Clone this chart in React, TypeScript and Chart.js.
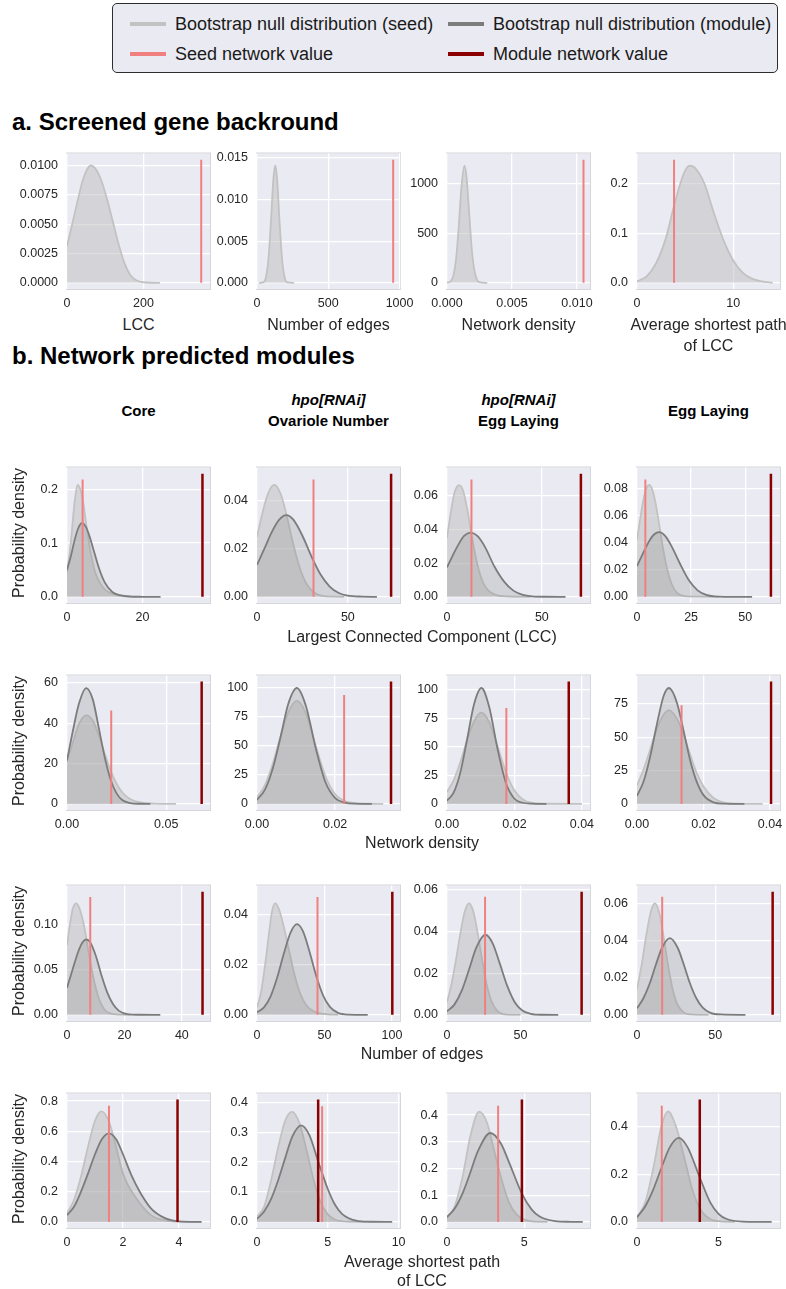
import React, { useEffect, useRef } from "react";
import { Chart, registerables } from "chart.js";

Chart.register(...registerables);

type Pt = [number, number];

// ---------- a. Screened gene background: bootstrap null (seed) ----------
const bgLccSeed: Pt[] = [[0, 0.0031], [10, 0.0045], [20, 0.0059], [30, 0.0073], [40, 0.0086], [50, 0.0095], [62, 0.01], [75, 0.0097], [90, 0.0087], [105, 0.0071], [120, 0.0052], [135, 0.0033], [150, 0.0017], [165, 0.0007], [180, 0.00025], [200, 0.00005], [243, 0]];
const bgEdgesSeed: Pt[] = [[15, 0], [40, 0.00005], [60, 0.0005], [80, 0.0028], [100, 0.008], [115, 0.0125], [128, 0.0141], [141, 0.0125], [156, 0.008], [176, 0.0028], [196, 0.0005], [216, 0.00005], [260, 0]];
const bgDensitySeed: Pt[] = [[0, 2], [0.0003, 18], [0.0005, 78], [0.0007, 243], [0.0009, 560], [0.0011, 950], [0.00134, 1185], [0.0015, 1075], [0.0017, 717], [0.0019, 350], [0.0021, 130], [0.0023, 33], [0.0025, 7], [0.0031, 0]];
const bgPathSeed: Pt[] = [[0, 0.003], [1, 0.013], [2, 0.04], [3, 0.09], [3.85, 0.155], [4.5, 0.2], [5, 0.226], [5.5, 0.236], [6, 0.232], [7, 0.2], [8, 0.14], [9, 0.085], [10, 0.045], [11, 0.02], [12, 0.008], [13, 0.003], [14.1, 0]];
const bgSeedValues = [351, 955, 0.0105, 3.85];
const bgSeedTops = [0.0105, 0.0148, 1245, 0.248];
const bgXMax = [374, 1003, 0.011, 14.86];
const bgXTicks = [[0, 200], [0, 500, 1000], [0, 0.005, 0.01], [0, 10]];
const bgYTicks = [[0, 0.0025, 0.005, 0.0075, 0.01], [0, 0.005, 0.01, 0.015], [0, 500, 1000], [0, 0.1, 0.2]];

// ---------- b. Network predicted modules ----------
// Row 1: largest connected component
const lccCoreSeed: Pt[] = [[0, 0.045], [1, 0.1], [2, 0.175], [2.8, 0.208], [3.5, 0.2], [4.2, 0.18], [5, 0.14], [6.2, 0.085], [7.5, 0.045], [8.8, 0.025], [10, 0.014], [11.5, 0.007], [13, 0.003], [15, 0.001], [18, 0]];
const lccCoreModule: Pt[] = [[0, 0.05], [1, 0.075], [2, 0.105], [3, 0.128], [4, 0.137], [5, 0.13], [6, 0.112], [7, 0.088], [8, 0.064], [9, 0.043], [10, 0.027], [12, 0.009], [14, 0.003], [17, 0.0005], [20, 0.0001], [24.8, 0]];
const lccOvarioleSeed: Pt[] = [[0, 0.025], [3, 0.035], [6, 0.043], [9.5, 0.0467], [13, 0.043], [16, 0.035], [19, 0.025], [22, 0.016], [25, 0.009], [28, 0.0045], [32, 0.0015], [36, 0.0004], [42, 0.00005], [48, 0]];
const lccOvarioleModule: Pt[] = [[0, 0.0133], [4, 0.02], [8, 0.0268], [12, 0.032], [16.1, 0.0341], [20, 0.0322], [25, 0.0255], [30, 0.0168], [35, 0.0093], [40, 0.0043], [45, 0.0016], [50, 0.0005], [58, 0.0001], [66, 0]];
const lccEggHpoSeed: Pt[] = [[0, 0.035], [2, 0.05], [4, 0.062], [6.3, 0.0664], [8.5, 0.063], [11, 0.05], [13.7, 0.032], [16.5, 0.017], [19, 0.0085], [22, 0.0035], [26, 0.001], [32, 0.0002], [44, 0]];
const lccEggHpoModule: Pt[] = [[0, 0.0175], [3, 0.0245], [6, 0.031], [9, 0.0362], [12.5, 0.0382], [16, 0.0362], [20, 0.0297], [25, 0.018], [30, 0.0092], [35, 0.0037], [40, 0.0012], [45, 0.0003], [52, 0.00005], [62.5, 0]];
const lccEggSeed: Pt[] = [[0, 0.042], [1.5, 0.058], [3, 0.072], [4.3, 0.08], [5.6, 0.0827], [7, 0.0795], [8.5, 0.07], [10, 0.056], [12, 0.036], [14, 0.02], [16, 0.0095], [18.5, 0.003], [22, 0.0005], [28, 0.0001], [38, 0]];
const lccEggModule: Pt[] = [[0, 0.0227], [3, 0.0329], [6, 0.0422], [8, 0.0462], [10.2, 0.0478], [13, 0.045], [16, 0.0373], [20, 0.0241], [24, 0.0122], [28, 0.0048], [32, 0.0015], [38, 0.0002], [45, 0.00002], [53.2, 0]];
const lccSeedValues = [4.14, 31.1, 12.9, 3.86];
const lccModuleValues = [35.9, 73.8, 70.6, 61.9];
const lccSeedTops = [0.218, 0.049, 0.0697, 0.0867];
const lccModuleTops = [0.229, 0.0514, 0.0732, 0.091];
const lccXMax = [37.9, 78.7, 75.4, 66.1];
const lccXTicks = [[0, 20], [0, 50], [0, 50], [0, 25, 50]];
const lccYTicks = [[0, 0.1, 0.2], [0, 0.02, 0.04], [0, 0.02, 0.04, 0.06], [0, 0.02, 0.04, 0.06, 0.08]];

// Row 2: network density
const densCoreSeed: Pt[] = [[0, 21], [0.003, 30.5], [0.006, 39.5], [0.0097, 43.9], [0.013, 41.2], [0.016, 34], [0.019, 25], [0.022, 16.5], [0.025, 10], [0.028, 5.5], [0.032, 2.3], [0.037, 0.7], [0.044, 0.15], [0.055, 0]];
const densCoreModule: Pt[] = [[0, 21.5], [0.003, 36.4], [0.006, 49.6], [0.0097, 57.4], [0.013, 51.8], [0.016, 37.8], [0.019, 23.2], [0.022, 12], [0.025, 5.2], [0.028, 1.8], [0.032, 0.4], [0.036, 0.06], [0.042, 0]];
const densOvarioleSeed: Pt[] = [[0, 5.5], [0.002, 16], [0.004, 34], [0.006, 58], [0.008, 78.7], [0.0102, 88.7], [0.0125, 78], [0.015, 50], [0.0175, 24], [0.02, 8.3], [0.0225, 2.4], [0.025, 0.6], [0.028, 0.1], [0.0323, 0]];
const densOvarioleModule: Pt[] = [[0, 3.5], [0.002, 12], [0.004, 30], [0.006, 57], [0.008, 86], [0.0102, 99.7], [0.0125, 84.5], [0.015, 48.5], [0.0175, 18.8], [0.02, 5], [0.0225, 1.1], [0.025, 0.2], [0.0294, 0]];
const densEggHpoSeed: Pt[] = [[0, 10.5], [0.002, 20.8], [0.004, 36.8], [0.006, 56], [0.008, 72], [0.0102, 79.8], [0.0125, 71.6], [0.015, 50.4], [0.0175, 27.5], [0.02, 11.7], [0.0225, 3.9], [0.025, 1], [0.03, 0.1], [0.04, 0]];
const densEggHpoModule: Pt[] = [[0, 2.8], [0.002, 10], [0.004, 28], [0.006, 57], [0.008, 87], [0.0102, 101.4], [0.0125, 85], [0.015, 48], [0.0175, 18], [0.02, 4.5], [0.0225, 1], [0.025, 0.2], [0.0295, 0]];
const densEggSeed: Pt[] = [[0, 14], [0.002, 26], [0.004, 41], [0.006, 56.5], [0.008, 67], [0.0096, 70.2], [0.012, 64], [0.014, 52], [0.016, 37], [0.018, 23], [0.02, 13], [0.023, 4.4], [0.026, 1.1], [0.03, 0.15], [0.0378, 0]];
const densEggModule: Pt[] = [[0, 6], [0.002, 17], [0.004, 36], [0.006, 60], [0.008, 81], [0.0096, 87], [0.012, 76], [0.014, 55], [0.016, 32.6], [0.018, 16.3], [0.02, 6.6], [0.023, 1.2], [0.026, 0.2], [0.0323, 0]];
const densSeedValues = [0.0223, 0.0223, 0.0176, 0.0134];
const densModuleValues = [0.0679, 0.0343, 0.0361, 0.0403];
const densSeedTops = [46.3, 93.7, 84, 74];
const densModuleTops = [60.6, 105.2, 107, 91.8];
const densXMax = [0.0721, 0.0366, 0.0424, 0.043];
const densXTicks = [[0, 0.05], [0, 0.02], [0, 0.02, 0.04], [0, 0.02, 0.04]];
const densYTicks = [[0, 20, 40, 60], [0, 25, 50, 75, 100], [0, 25, 50, 75, 100], [0, 25, 50, 75]];

// Row 3: number of edges
const edgeCoreSeed: Pt[] = [[0, 0.077], [1, 0.1], [2, 0.118], [3.25, 0.124], [4.5, 0.117], [6, 0.098], [7.5, 0.07], [9, 0.044], [11, 0.019], [13, 0.006], [15, 0.0016], [18, 0.0002], [22, 0]];
const edgeCoreModule: Pt[] = [[0, 0.03], [2, 0.051], [4, 0.071], [5.5, 0.081], [6.7, 0.0838], [8, 0.081], [10, 0.066], [12, 0.044], [14, 0.025], [16, 0.012], [18, 0.0047], [21, 0.0008], [25, 0.0001], [32.5, 0]];
const edgeOvarioleSeed: Pt[] = [[0, 0.003], [3, 0.009], [6, 0.02], [9, 0.033], [11, 0.041], [13.5, 0.0445], [16, 0.0425], [19, 0.037], [22, 0.03], [25, 0.0225], [28, 0.0155], [32, 0.0085], [36, 0.0042], [40, 0.002], [45, 0.0008], [52, 0.0002], [60, 0]];
const edgeOvarioleModule: Pt[] = [[0, 0.001], [5, 0.0029], [10, 0.0073], [15, 0.015], [20, 0.0247], [25, 0.033], [29.6, 0.0362], [34, 0.0334], [39, 0.025], [44, 0.0153], [49, 0.0077], [54, 0.0032], [60, 0.0008], [68, 0.0001], [82, 0]];
const edgeEggHpoSeed: Pt[] = [[0, 0.006], [3, 0.0146], [6, 0.026], [9, 0.0387], [12, 0.0494], [15, 0.0536], [18, 0.0494], [21, 0.0387], [24, 0.026], [27, 0.0146], [30, 0.007], [34, 0.002], [38, 0.0004], [44, 0.00002], [50, 0]];
const edgeEggHpoModule: Pt[] = [[0, 0.0017], [5, 0.0049], [10, 0.0116], [15, 0.0218], [20, 0.0324], [26.1, 0.0385], [31, 0.0345], [36, 0.0245], [41, 0.0139], [46, 0.0062], [51, 0.0022], [57, 0.0005], [65, 0.00004], [75.7, 0]];
const edgeEggSeed: Pt[] = [[0, 0.0139], [3, 0.027], [6, 0.0433], [9, 0.056], [11.4, 0.06], [14, 0.0556], [17, 0.042], [20, 0.026], [23, 0.013], [26, 0.0053], [30, 0.0012], [34, 0.0002], [40, 0.00001], [45.7, 0]];
const edgeEggModule: Pt[] = [[0, 0.0035], [4, 0.0088], [8, 0.0166], [12, 0.0268], [16, 0.0361], [21, 0.0413], [26, 0.0361], [30, 0.0268], [34, 0.0166], [38, 0.0088], [42, 0.0039], [47, 0.0011], [54, 0.0002], [69.3, 0]];
const edgeSeedValues = [8.1, 44.8, 25.9, 16.1];
const edgeModuleValues = [47.2, 100.2, 91.6, 86.7];
const edgeSeedTops = [0.131, 0.0471, 0.0567, 0.0635];
const edgeModuleTops = [0.137, 0.0492, 0.0592, 0.0663];
const edgeXMax = [49.8, 105.9, 97.3, 91.4];
const edgeXTicks = [[0, 20, 40], [0, 50, 100], [0, 50], [0, 50]];
const edgeYTicks = [[0, 0.05, 0.1], [0, 0.02, 0.04], [0, 0.02, 0.04, 0.06], [0, 0.02, 0.04, 0.06]];

// Row 4: average shortest path of the LCC
const pathCoreSeed: Pt[] = [[0, 0.057], [0.25, 0.145], [0.5, 0.3], [0.75, 0.497], [1, 0.67], [1.23, 0.732], [1.5, 0.665], [1.75, 0.5], [2, 0.32], [2.5, 0.15], [3, 0.045], [3.5, 0.01], [4, 0.002], [4.8, 0]];
const pathCoreModule: Pt[] = [[0, 0.045], [0.25, 0.1], [0.5, 0.2], [0.75, 0.32], [1, 0.448], [1.25, 0.549], [1.5, 0.587], [1.75, 0.549], [2, 0.448], [2.3, 0.31], [2.6, 0.2], [3, 0.09], [3.5, 0.025], [4, 0.004], [4.81, 0]];
const pathOvarioleSeed: Pt[] = [[0, 0.018], [0.5, 0.05], [1, 0.14], [1.5, 0.25], [2, 0.34], [2.48, 0.368], [3, 0.33], [3.5, 0.24], [4, 0.14], [4.5, 0.065], [5, 0.025], [5.5, 0.008], [6.5, 0.0005], [8, 0]];
const pathOvarioleModule: Pt[] = [[0, 0.01], [0.5, 0.035], [1, 0.077], [1.5, 0.14], [2, 0.215], [2.5, 0.286], [3.11, 0.323], [3.7, 0.29], [4.3, 0.205], [5, 0.11], [5.5, 0.058], [6, 0.027], [7, 0.004], [8, 0.0005], [9.55, 0]];
const pathEggHpoSeed: Pt[] = [[0, 0.015], [0.5, 0.058], [1, 0.166], [1.5, 0.318], [2.08, 0.413], [2.6, 0.37], [3, 0.28], [3.5, 0.165], [4, 0.075], [4.5, 0.028], [5, 0.009], [5.5, 0.002], [6.5, 0]];
const pathEggHpoModule: Pt[] = [[0, 0.018], [0.5, 0.05], [1, 0.106], [1.5, 0.183], [2, 0.265], [2.81, 0.333], [3.5, 0.293], [4, 0.226], [4.85, 0.106], [5.5, 0.045], [6, 0.02], [7, 0.003], [8, 0.0003], [8.79, 0]];
const pathEggSeed: Pt[] = [[0, 0.019], [0.5, 0.081], [1, 0.226], [1.5, 0.404], [1.9, 0.465], [2.4, 0.4], [2.9, 0.27], [3.4, 0.134], [3.9, 0.051], [4.5, 0.011], [5, 0.003], [6, 0]];
const pathEggModule: Pt[] = [[0, 0.02], [0.5, 0.065], [1, 0.137], [1.5, 0.228], [2, 0.313], [2.56, 0.354], [3.1, 0.315], [3.85, 0.187], [4.5, 0.081], [5, 0.034], [5.5, 0.012], [6.5, 0.001], [7.5, 0.0001], [8.26, 0]];
const pathSeedValues = [1.5, 4.6, 3.31, 1.52];
const pathModuleValues = [3.95, 4.32, 4.85, 3.85];
const pathSeedTops = [0.77, 0.387, 0.435, 0.489];
const pathModuleTops = [0.81, 0.409, 0.458, 0.515];
const pathXMax = [5.11, 10.1, 9.26, 8.77];
const pathXTicks = [[0, 2, 4], [0, 5, 10], [0, 5], [0, 5]];
const pathYTicks = [[0, 0.2, 0.4, 0.6, 0.8], [0, 0.1, 0.2, 0.3, 0.4], [0, 0.1, 0.2, 0.3, 0.4], [0, 0.2, 0.4]];

// ---------- styling ----------
const FONT = "'Liberation Sans', Arial, Helvetica, sans-serif";
const INK = "#262626";
const PANEL_BG = "#eaeaf2";
const SEED_CURVE = "#c2c2c2";
const MODULE_CURVE = "#7c7c7c";
const SEED_VALUE = "#f08080";
const MODULE_VALUE = "#8b0000";

const COL_LEFT = [67, 257, 447, 637];
const PLOT_W = 143;
const ROW_TOP = [149, 463, 671, 881, 1089];
const ROW_H = [140, 140, 139, 140, 139];
const Y_AXIS_W = 56;
const X_AXIS_H = 26;
const PAD_TOP = 12;
const PAD_RIGHT = 30;

interface PanelSpec {
  seed: Pt[];
  module?: Pt[];
  seedValue: number;
  seedTop: number;
  moduleValue?: number;
  moduleTop?: number;
  xMax: number;
  xTicks: number[];
  yTicks: number[];
}

const rowA: PanelSpec[] = [bgLccSeed, bgEdgesSeed, bgDensitySeed, bgPathSeed].map((seed, i) => ({
  seed,
  seedValue: bgSeedValues[i],
  seedTop: bgSeedTops[i],
  xMax: bgXMax[i],
  xTicks: bgXTicks[i],
  yTicks: bgYTicks[i],
}));

function moduleRow(
  seeds: Pt[][], modules: Pt[][], seedValues: number[], moduleValues: number[],
  seedTops: number[], moduleTops: number[], xMax: number[], xTicks: number[][], yTicks: number[][]
): PanelSpec[] {
  return seeds.map((seed, i) => ({
    seed,
    module: modules[i],
    seedValue: seedValues[i],
    moduleValue: moduleValues[i],
    seedTop: seedTops[i],
    moduleTop: moduleTops[i],
    xMax: xMax[i],
    xTicks: xTicks[i],
    yTicks: yTicks[i],
  }));
}

const rowsB: PanelSpec[][] = [
  moduleRow([lccCoreSeed, lccOvarioleSeed, lccEggHpoSeed, lccEggSeed], [lccCoreModule, lccOvarioleModule, lccEggHpoModule, lccEggModule],
    lccSeedValues, lccModuleValues, lccSeedTops, lccModuleTops, lccXMax, lccXTicks, lccYTicks),
  moduleRow([densCoreSeed, densOvarioleSeed, densEggHpoSeed, densEggSeed], [densCoreModule, densOvarioleModule, densEggHpoModule, densEggModule],
    densSeedValues, densModuleValues, densSeedTops, densModuleTops, densXMax, densXTicks, densYTicks),
  moduleRow([edgeCoreSeed, edgeOvarioleSeed, edgeEggHpoSeed, edgeEggSeed], [edgeCoreModule, edgeOvarioleModule, edgeEggHpoModule, edgeEggModule],
    edgeSeedValues, edgeModuleValues, edgeSeedTops, edgeModuleTops, edgeXMax, edgeXTicks, edgeYTicks),
  moduleRow([pathCoreSeed, pathOvarioleSeed, pathEggHpoSeed, pathEggSeed], [pathCoreModule, pathOvarioleModule, pathEggHpoModule, pathEggModule],
    pathSeedValues, pathModuleValues, pathSeedTops, pathModuleTops, pathXMax, pathXTicks, pathYTicks),
];

const decimalsOf = (ticks: number[]) =>
  Math.max(0, ...ticks.map((v) => {
    const s = String(v);
    const i = s.indexOf(".");
    return i < 0 ? 0 : s.length - i - 1;
  }));

const toXY = (pts: Pt[]) => pts.map(([x, y]) => ({ x, y }));

const plotFrame = {
  id: "plotFrame",
  beforeDraw(chart: any) {
    const { ctx, chartArea: a } = chart;
    ctx.save();
    ctx.fillStyle = PANEL_BG;
    ctx.fillRect(a.left, a.top, a.right - a.left, a.bottom - a.top);
    ctx.strokeStyle = "#d6d6da";
    ctx.lineWidth = 1;
    ctx.strokeRect(a.left - 0.5, a.top - 0.5, a.right - a.left + 1, a.bottom - a.top + 1);
    ctx.restore();
  },
};

function Panel({ spec, left, top, height }: { spec: PanelSpec; left: number; top: number; height: number }) {
  const ref = useRef<HTMLCanvasElement>(null);
  const cw = Y_AXIS_W + PLOT_W + PAD_RIGHT;
  const ch = PAD_TOP + height + X_AXIS_H;

  useEffect(() => {
    const datasets: any[] = [];
    if (spec.moduleValue !== undefined && spec.moduleTop !== undefined) {
      datasets.push({
        data: [{ x: spec.moduleValue, y: 0 }, { x: spec.moduleValue, y: spec.moduleTop }],
        borderColor: MODULE_VALUE, borderWidth: 2.5, pointRadius: 0, order: 0,
      });
    }
    datasets.push({
      data: [{ x: spec.seedValue, y: 0 }, { x: spec.seedValue, y: spec.seedTop }],
      borderColor: SEED_VALUE, borderWidth: 2, pointRadius: 0, order: 1,
    });
    if (spec.module) {
      datasets.push({
        data: toXY(spec.module), borderColor: MODULE_CURVE, backgroundColor: "rgba(128,128,128,0.22)",
        fill: "origin", borderWidth: 1.8, pointRadius: 0, cubicInterpolationMode: "monotone", order: 2,
      });
    }
    datasets.push({
      data: toXY(spec.seed), borderColor: SEED_CURVE, backgroundColor: "rgba(192,192,192,0.52)",
      fill: "origin", borderWidth: 1.8, pointRadius: 0, cubicInterpolationMode: "monotone", order: 3,
    });

    const allY = [
      ...spec.seed.map((p) => p[1]),
      ...(spec.module ? spec.module.map((p) => p[1]) : []),
      spec.seedTop, spec.moduleTop ?? 0,
    ];
    const yTop = Math.max(...allY);
    const xd = decimalsOf(spec.xTicks);
    const yd = decimalsOf(spec.yTicks);
    const tickFont = { family: FONT, size: 12.5 };

    const chart = new Chart(ref.current as HTMLCanvasElement, {
      type: "line",
      data: { datasets },
      plugins: [plotFrame],
      options: {
        responsive: false,
        animation: false,
        events: [],
        layout: { padding: { top: PAD_TOP, right: PAD_RIGHT, left: 0, bottom: 0 } },
        plugins: { legend: { display: false }, tooltip: { enabled: false } },
        scales: {
          x: {
            type: "linear", min: 0, max: spec.xMax,
            afterBuildTicks: (s: any) => { s.ticks = spec.xTicks.map((v) => ({ value: v })); },
            afterFit: (s: any) => { s.height = X_AXIS_H; },
            grid: { color: "#ffffff", lineWidth: 1.3, drawTicks: false },
            border: { display: false },
            ticks: { padding: 7, color: INK, font: tickFont, autoSkip: false, maxRotation: 0,
              callback: (v: any) => Number(v).toFixed(xd) },
          },
          y: {
            type: "linear", min: -0.05 * yTop, max: 1.05 * yTop,
            afterBuildTicks: (s: any) => { s.ticks = spec.yTicks.map((v) => ({ value: v })); },
            afterFit: (s: any) => { s.width = Y_AXIS_W; },
            grid: { color: "#ffffff", lineWidth: 1.3, drawTicks: false },
            border: { display: false },
            ticks: { padding: 9, color: INK, font: tickFont, autoSkip: false,
              callback: (v: any) => Number(v).toFixed(yd) },
          },
        },
      } as any,
    });
    return () => chart.destroy();
  }, [spec]);

  return (
    <canvas
      ref={ref}
      width={cw}
      height={ch}
      style={{ position: "absolute", left: left - Y_AXIS_W, top: top - PAD_TOP, width: cw, height: ch }}
    />
  );
}

type TextProps = {
  x: number; y: number; children: React.ReactNode; size: number;
  bold?: boolean; italic?: boolean; anchor?: "center" | "left"; rotate?: boolean; color?: string;
};

function Text({ x, y, children, size, bold, italic, anchor = "center", rotate, color = INK }: TextProps) {
  const shift = anchor === "center" ? "translate(-50%, -50%)" : "translate(0, -50%)";
  return (
    <div
      style={{
        position: "absolute", left: x, top: y, transform: shift + (rotate ? " rotate(-90deg)" : ""),
        whiteSpace: "nowrap", fontFamily: FONT, fontSize: size, lineHeight: 1,
        fontWeight: bold ? 700 : 400, fontStyle: italic ? "italic" : "normal", color,
      }}
    >
      {children}
    </div>
  );
}

const legendItems = [
  { label: "Bootstrap null distribution (seed)", color: SEED_CURVE, x: 130, y: 24 },
  { label: "Bootstrap null distribution (module)", color: MODULE_CURVE, x: 448, y: 24 },
  { label: "Seed network value", color: SEED_VALUE, x: 130, y: 54 },
  { label: "Module network value", color: MODULE_VALUE, x: 448, y: 54 },
];

const rowAXLabels = ["LCC", "Number of edges", "Network density", "Average shortest path"];
const rowBXLabels = ["Largest Connected Component (LCC)", "Network density", "Number of edges", "Average shortest path"];
const rowBLabelY = [637, 843, 1054, 1262];

export default function App() {
  const colCenter = (c: number) => COL_LEFT[c] + PLOT_W / 2;
  return (
    <div style={{ position: "absolute", left: 0, top: 0, width: 786, height: 1289, overflow: "hidden", background: "#ffffff" }}>
      {/* legend */}
      <div style={{ position: "absolute", left: 112, top: 3, width: 666, height: 70, boxSizing: "border-box",
        border: "1.3px solid #2e2e2e", borderRadius: 5, background: PANEL_BG }} />
      {legendItems.map((it) => (
        <React.Fragment key={it.label}>
          <div style={{ position: "absolute", left: it.x, top: it.y - 2, width: 36, height: 4, background: it.color }} />
          <Text x={it.x + 45} y={it.y} size={18} anchor="left" color="#1a1a1a">{it.label}</Text>
        </React.Fragment>
      ))}

      {/* section a */}
      <Text x={12} y={122} size={24} bold anchor="left" color="#000">a. Screened gene backround</Text>
      {rowA.map((spec, c) => (
        <Panel key={"a" + c} spec={spec} left={COL_LEFT[c]} top={ROW_TOP[0]} height={ROW_H[0]} />
      ))}
      {rowAXLabels.map((t, c) => (
        <Text key={"ax" + c} x={colCenter(c)} y={325} size={16}>{t}</Text>
      ))}
      <Text x={colCenter(3)} y={346} size={16}>of LCC</Text>

      {/* section b */}
      <Text x={12} y={356} size={24} bold anchor="left" color="#000">b. Network predicted modules</Text>
      <Text x={colCenter(0)} y={410} size={15} bold color="#000">Core</Text>
      <Text x={colCenter(1)} y={399} size={15} bold italic color="#000">hpo[RNAi]</Text>
      <Text x={colCenter(1)} y={420} size={15} bold color="#000">Ovariole Number</Text>
      <Text x={colCenter(2)} y={399} size={15} bold italic color="#000">hpo[RNAi]</Text>
      <Text x={colCenter(2)} y={420} size={15} bold color="#000">Egg Laying</Text>
      <Text x={colCenter(3)} y={410} size={15} bold color="#000">Egg Laying</Text>

      {rowsB.map((row, r) =>
        row.map((spec, c) => (
          <Panel key={`b${r}-${c}`} spec={spec} left={COL_LEFT[c]} top={ROW_TOP[r + 1]} height={ROW_H[r + 1]} />
        ))
      )}
      {rowsB.map((_, r) => (
        <Text key={"yl" + r} x={19} y={ROW_TOP[r + 1] + ROW_H[r + 1] / 2} size={16} rotate>Probability density</Text>
      ))}
      {rowBXLabels.map((t, r) => (
        <Text key={"bx" + r} x={422} y={rowBLabelY[r]} size={16}>{t}</Text>
      ))}
      <Text x={422} y={1281} size={16}>of LCC</Text>
    </div>
  );
}
